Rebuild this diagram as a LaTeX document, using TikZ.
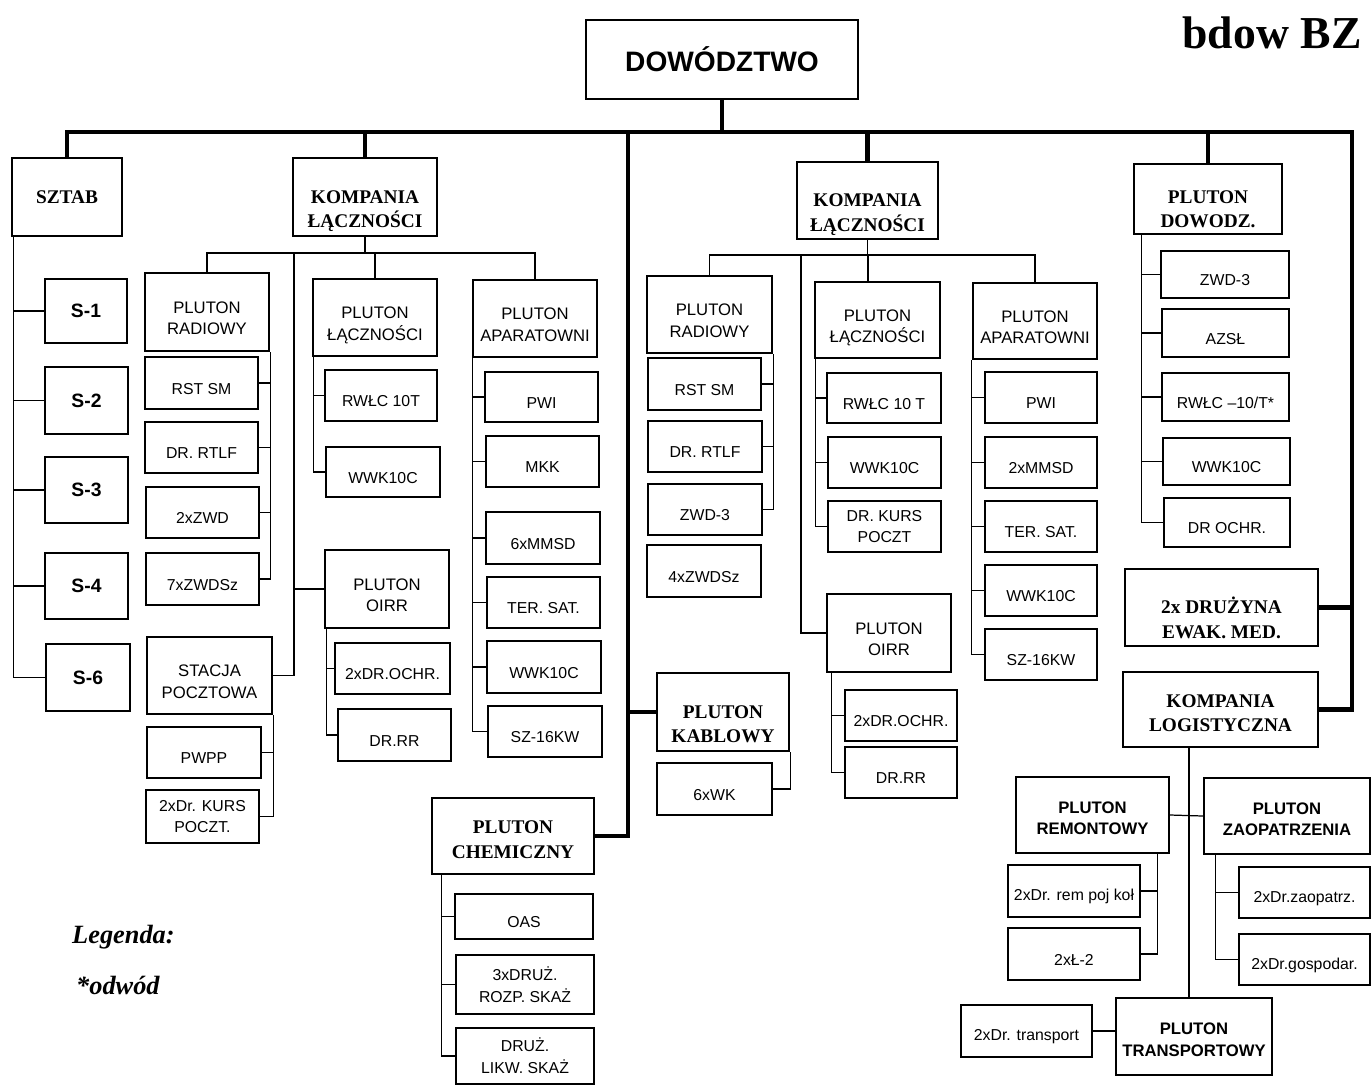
\documentclass[tikz,border=0pt]{standalone}
\usepackage{fontspec}
\setmainfont{Liberation Serif}
\setsansfont{Liberation Sans}
\usepackage{tikz}

\begin{document}
\begin{tikzpicture}[x=0.02cm,y=-0.02cm]
  \tikzset{
    bx/.style args={#1/#2/#3/#4}{at={({(#1+#3)/2},{(#2+#4)/2})},
      minimum width={(#3-#1)*0.02cm},minimum height={(#4-#2)*0.02cm}},
    frame/.style={draw=black,line width=1.3pt,inner sep=0pt,align=center},
    dn/.style={execute at begin node={\rule{0pt}{#1}}},
    tx/.style={text height=#1,text depth=0pt},
    box/.style={frame,dn=13pt,font=\sffamily\fontsize{9}{12.3}\selectfont},
    boxii/.style={frame,font=\sffamily\fontsize{9}{12.3}\selectfont},
    plut/.style={frame,tx=25.9pt,font=\sffamily\fontsize{9.5}{12.3}\selectfont},
    head/.style={frame,font=\rmfamily\bfseries\fontsize{11}{14}\selectfont},
    sbold/.style={frame,tx=22.5pt,font=\sffamily\bfseries\fontsize{9.5}{12.3}\selectfont},
    sbig/.style={frame,font=\sffamily\bfseries\fontsize{11}{13}\selectfont},
    bus/.style={line width=2.3pt},
    link/.style={line width=0.7pt},
    legend/.style={anchor=west,font=\rmfamily\bfseries\itshape\fontsize{15}{18}\selectfont},
  }
  \useasboundingbox (0,0) rectangle (1372,1086);

  % top
  \node[frame,font=\sffamily\bfseries\fontsize{16}{19}\selectfont,bx=586/20/858/99] (dow) {DOWÓDZTWO};
  \node[font=\rmfamily\bfseries\fontsize{26}{30}\selectfont] (title) at (1272,33) {bdow BZ};

  % first level
  \node[head,bx=12/158/122/236] (sztab) {SZTAB};
  \node[head,tx=34.9pt,bx=293/158/437/236] (kompL) {KOMPANIA\\ŁĄCZNOŚCI};
  \node[head,tx=34.9pt,bx=797/162/938/239] (kompR) {KOMPANIA\\ŁĄCZNOŚCI};
  \node[head,tx=32.7pt,bx=1134/164/1282/234] (dowodz) {PLUTON\\DOWODZ.};
  \node[head,tx=34.9pt,bx=657/673/789/751] (kabl) {PLUTON\\KABLOWY};
  \node[head,tx=25.3pt,bx=432/798/594/874] (chem) {PLUTON\\CHEMICZNY};
  \node[head,tx=34.9pt,bx=1125/569/1318/646] (druz) {2x DRUŻYNA\\EWAK. MED.};
  \node[head,tx=25.3pt,bx=1123/672/1318/747] (logist) {KOMPANIA\\LOGISTYCZNA};

  % sztab
  \node[sbig,bx=45/279/127/343] (s1) {S-1};
  \node[sbig,bx=45/367/128/434] (s2) {S-2};
  \node[sbig,bx=45/457/128/523] (s3) {S-3};
  \node[sbig,bx=45/553/128/619] (s4) {S-4};
  \node[sbig,bx=46/644/130/711] (s6) {S-6};

  % kompania lacznosci (left)
  \node[plut,bx=145/273/269/351] (radL) {PLUTON\\RADIOWY};
  \node[box,bx=145/357/258/409] (rstL) {RST SM};
  \node[box,bx=145/422/258/473] (rtlfL) {DR. RTLF};
  \node[box,bx=146/487/259/538] (zwdL) {2xZWD};
  \node[box,bx=146/553/259/605] (zwdszL) {7xZWDSz};
  \node[plut,bx=147/637/272/714] (stacja) {STACJA\\POCZTOWA};
  \node[box,bx=147/727/261/778] (pwpp) {PWPP};
  \node[boxii,bx=146/790/259/843] (kurs) {2xDr. KURS\\POCZT.};

  \node[plut,bx=313/279/437/356] (lacL) {PLUTON\\ŁĄCZNOŚCI};
  \node[box,bx=325/370/437/421] (rwlcL) {RWŁC 10T};
  \node[box,bx=326/447/440/497] (wwkL) {WWK10C};
  \node[plut,bx=325/550/449/628] (oirrL) {PLUTON\\OIRR};
  \node[box,bx=335/643/450/694] (ochrL) {2xDR.OCHR.};
  \node[box,bx=338/709/451/761] (rrL) {DR.RR};

  \node[plut,bx=473/280/597/357] (aparL) {PLUTON\\APARATOWNI};
  \node[box,bx=485/372/598/422] (pwiL) {PWI};
  \node[box,bx=486/436/599/487] (mkk) {MKK};
  \node[box,bx=486/512/600/564] (mmsdL) {6xMMSD};
  \node[box,bx=487/577/600/628] (terL) {TER. SAT.};
  \node[box,bx=487/641/601/693] (wwk2L) {WWK10C};
  \node[box,bx=488/706/602/757] (szL) {SZ-16KW};

  % kablowy, chemiczny
  \node[box,bx=657/763/772/815] (wk) {6xWK};
  \node[box,dn=10pt,bx=455/894/593/939] (oas) {OAS};
  \node[boxii,bx=456/955/594/1014] (rozp) {3xDRUŻ.\\ROZP. SKAŻ};
  \node[boxii,bx=456/1028/594/1084] (likw) {DRUŻ.\\LIKW. SKAŻ};

  % kompania lacznosci (right)
  \node[plut,bx=647/276/772/353] (radR) {PLUTON\\RADIOWY};
  \node[box,bx=648/358/761/410] (rstR) {RST SM};
  \node[box,bx=648/421/762/472] (rtlfR) {DR. RTLF};
  \node[box,bx=648/484/762/535] (zwd3R) {ZWD-3};
  \node[box,bx=647/545/761/597] (zwdszR) {4xZWDSz};

  \node[plut,bx=815/282/940/358] (lacR) {PLUTON\\ŁĄCZNOŚCI};
  \node[box,bx=827/373/941/423] (rwlcR) {RWŁC 10 T};
  \node[box,bx=828/437/941/488] (wwkR) {WWK10C};
  \node[boxii,bx=828/501/941/552] (kursR) {DR. KURS\\POCZT};
  \node[plut,bx=827/594/951/672] (oirrR) {PLUTON\\OIRR};
  \node[box,bx=845/690/957/741] (ochrR) {2xDR.OCHR.};
  \node[box,bx=845/747/957/798] (rrR) {DR.RR};

  \node[plut,bx=973/283/1097/359] (aparR) {PLUTON\\APARATOWNI};
  \node[box,bx=985/372/1097/423] (pwiR) {PWI};
  \node[box,bx=985/437/1097/488] (mmsdR) {2xMMSD};
  \node[box,bx=985/501/1097/552] (terR) {TER. SAT.};
  \node[box,bx=985/565/1097/616] (wwk2R) {WWK10C};
  \node[box,bx=985/629/1097/680] (szR) {SZ-16KW};

  % pluton dowodzenia
  \node[box,dn=10pt,bx=1161/251/1289/298] (zwd3D) {ZWD-3};
  \node[box,bx=1162/309/1289/357] (azsl) {AZSŁ};
  \node[box,bx=1162/373/1289/421] (rwlcD) {RWŁC –10/T*};
  \node[box,bx=1163/438/1290/485] (wwkD) {WWK10C};
  \node[box,bx=1164/498/1290/547] (ochrD) {DR OCHR.};

  % kompania logistyczna
  \node[sbold,bx=1016/777/1169/853] (remont) {PLUTON\\REMONTOWY};
  \node[box,bx=1008/865/1140/917] (rem1) {2xDr. rem poj koł};
  \node[box,bx=1008/928/1140/980] (rem2) {2xŁ-2};
  \node[sbold,bx=1204/778/1370/854] (zaop) {PLUTON\\ZAOPATRZENIA};
  \node[box,bx=1239/867/1370/918] (zaop1) {2xDr.zaopatrz.};
  \node[box,bx=1239/934/1370/985] (zaop2) {2xDr.gospodar.};
  \node[sbold,bx=1116/998/1272/1075] (transp) {PLUTON\\TRANSPORTOWY};
  \node[box,bx=961/1005/1092/1057] (trans2) {2xDr. transport};

  % legend
  \node[legend] (leg) at (66,937) {Legenda:};
  \node[legend] (odw) at (70,985) {*odwód};

  % main bus
  \coordinate (busR) at (1352,132);
  \coordinate (cbus) at (628,132);
  \draw[bus] (sztab.north) |- (busR) |- (logist.east);
  \draw[bus] (dow.south) -- (dow.south |- busR);
  \draw[bus] (kompL.north) -- (kompL.north |- busR);
  \draw[bus] (kompR.north) -- (kompR.north |- busR);
  \draw[bus] (dowodz.north) -- (dowodz.north |- busR);
  \draw[bus] (cbus) |- (chem.east);
  \draw[bus] (kabl.west) -- (kabl.west -| cbus);
  \draw[bus] (druz.east) -- (druz.east -| busR);

  % sztab links
  \foreach \c in {s1,s2,s3,s4,s6}
    \draw[link] (sztab.south west) ++(3,0) |- (\c.west);

  % left kompania links
  \coordinate (hubL) at (370,253);
  \coordinate (spL) at (294,253);
  \draw[link] (kompL.south) -- (kompL.south |- hubL);
  \draw[link] (radL.north) |- (hubL) -| (aparL.north);
  \draw[link] (lacL.north) -- (lacL.north |- hubL);
  \draw[link] (spL) |- (stacja.east);
  \draw[link] (spL |- oirrL.west) -- (oirrL.west);
  \foreach \c in {rstL,rtlfL,zwdL,zwdszL}
    \draw[link] (radL.south east) |- (\c.east);
  \foreach \c in {pwpp,kurs}
    \draw[link] (stacja.south east) |- (\c.east);
  \foreach \c in {rwlcL,wwkL}
    \draw[link] (lacL.south west) ++(2,0) |- (\c.west);
  \foreach \c in {ochrL,rrL}
    \draw[link] (oirrL.south west) ++(3,0) |- (\c.west);
  \foreach \c in {pwiL,mkk,mmsdL,terL,wwk2L,szL}
    \draw[link] (aparL.south west) ++(1,0) |- (\c.west);
  \draw[link] (kabl.south east) |- (wk.east);
  \foreach \c in {oas,rozp,likw}
    \draw[link] (chem.south west) ++(11,0) |- (\c.west);

  % right kompania links
  \coordinate (hubR) at (868,255);
  \coordinate (spR) at (801,255);
  \draw[link] (kompR.south) -- (kompR.south |- hubR);
  \draw[link] (radR.north) |- (hubR) -| (aparR.north);
  \draw[link] (hubR) -- (hubR |- lacR.north);
  \draw[link] (spR) |- (oirrR.west);
  \foreach \c in {rstR,rtlfR,zwd3R}
    \draw[link] (radR.south east) |- (\c.east);
  \foreach \c in {rwlcR,wwkR,kursR}
    \draw[link] (lacR.south west) ++(2,0) |- (\c.west);
  \foreach \c in {ochrR,rrR}
    \draw[link] (oirrR.south west) ++(6,0) |- (\c.west);
  \foreach \c in {pwiR,mmsdR,terR,wwk2R,szR}
    \draw[link] (aparR.south west) |- (\c.west);
  \foreach \c in {zwd3D,azsl,rwlcD,wwkD,ochrD}
    \draw[link] (dowodz.south west) ++(9,0) |- (\c.west);

  % logistics links
  \coordinate (lsp) at (1189,747);
  \draw[link] (lsp) -- (lsp |- transp.north);
  \draw[link] (remont.east) -- (zaop.west);
  \foreach \c in {rem1,rem2}
    \draw[link] (remont.south east) ++(-13,0) |- (\c.east);
  \foreach \c in {zaop1,zaop2}
    \draw[link] (zaop.south west) ++(13,0) |- (\c.west);
  \draw[link] (trans2.east) -- (trans2.east -| transp.west);
\end{tikzpicture}
\end{document}
